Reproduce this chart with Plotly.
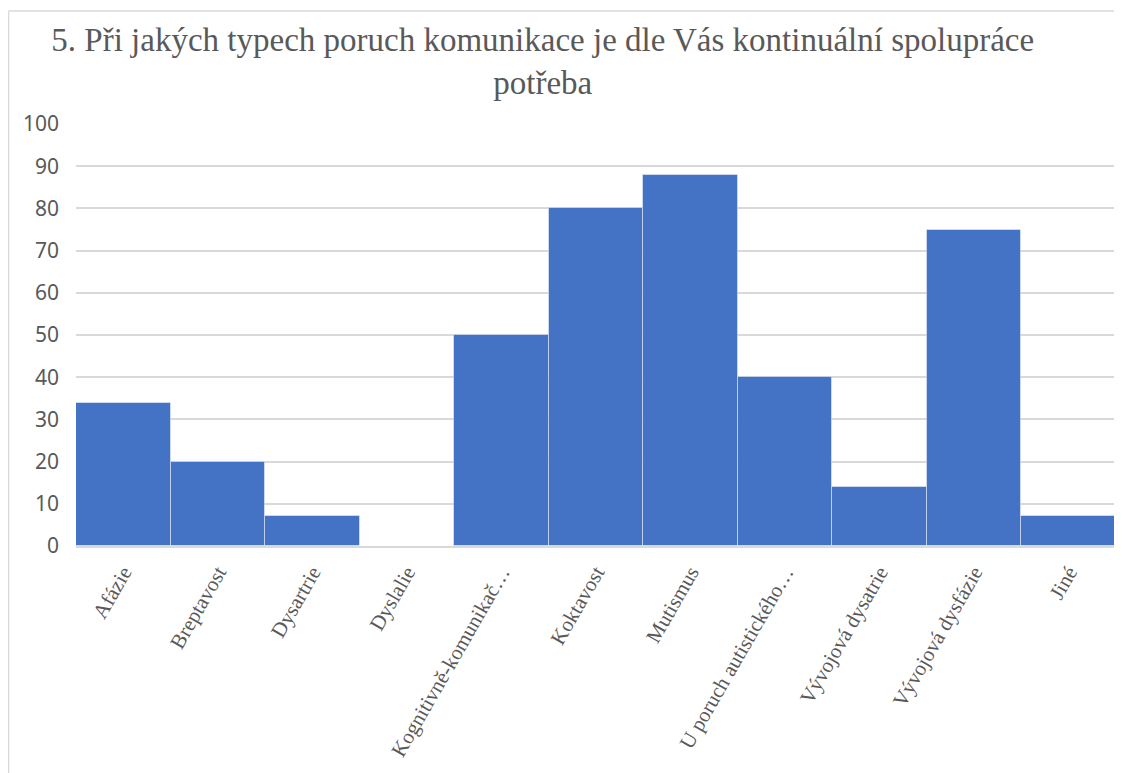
import plotly.graph_objects as go

categories = ["Afázie", "Breptavost", "Dysartrie", "Dyslalie", "Kognitivně-komunikač…",
              "Koktavost", "Mutismus", "U poruch autistického…", "Vývojová dysatrie",
              "Vývojová dysfázie", "Jiné"]
values = [34, 20, 7, 0, 50, 80, 88, 40, 14, 75, 7]
y_ticks = [0, 10, 20, 30, 40, 50, 60, 70, 80, 90, 100]

# page body has an 8px margin, so the figure is offset by 8px
W, H = 1114, 765
ML, MR, MT, MB = 68, 6, 116, 227
pw, ph = W - ML - MR, H - MT - MB

fig = go.Figure(go.Bar(
    x=categories, y=values,
    marker=dict(color="#4472C4", line=dict(color="rgba(255,255,255,0.45)", width=1)),
))

# outer chart frame (left and top edges visible)
x0 = (0 - ML) / pw + 0.5 / pw
y1 = 1 + (MT - 3) / ph
fig.add_shape(type="line", xref="paper", yref="paper", x0=x0, x1=x0, y0=-5, y1=y1,
              line=dict(color="#d9d9d9", width=1.5), layer="below")
fig.add_shape(type="line", xref="paper", yref="paper", x0=x0, x1=1.5, y0=y1, y1=y1,
              line=dict(color="#d9d9d9", width=1.5), layer="below")

SERIF = "Liberation Serif"

fig.update_layout(
    width=W, height=H,
    margin=dict(l=ML, r=MR, t=MT, b=MB, autoexpand=False),
    paper_bgcolor="white", plot_bgcolor="white",
    bargap=0,
    showlegend=False,
    title=dict(
        text="5. Při jakých typech poruch komunikace je dle Vás kontinuální spolupráce<br>potřeba",
        font=dict(family=SERIF, size=33, color="#595959"),
        x=0.48, xref="container", xanchor="center",
        y=1 - 43 / H, yref="container", yanchor="top",
        automargin=False,
    ),
    yaxis=dict(
        range=[0, 100], tickvals=y_ticks, showgrid=True,
        gridcolor="#d9d9d9", gridwidth=1.5, zeroline=False,
        showline=False, ticks="", ticklabelstandoff=16, automargin=False,
        tickfont=dict(family="Noto Sans", size=21, color="#595959"),
    ),
    xaxis=dict(
        showline=True, linecolor="#d9d9d9", linewidth=1.5, automargin=False,
        ticks="", tickangle=-60, ticklabelstandoff=4,
        tickfont=dict(family=SERIF, size=21, color="#595959"),
    ),
)

fig.write_html("out.html")
